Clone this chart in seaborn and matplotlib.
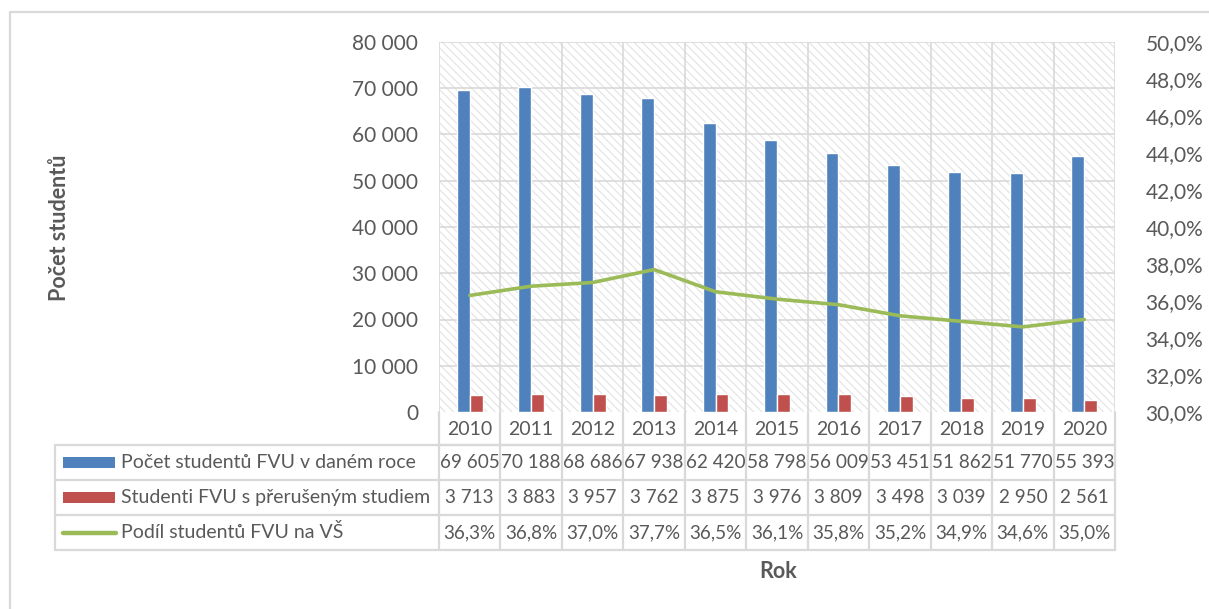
import numpy as np
import pandas as pd
import matplotlib
matplotlib.use("Agg")
import matplotlib.pyplot as plt
from matplotlib.patches import Rectangle
from matplotlib.ticker import FuncFormatter, MultipleLocator
import seaborn as sns

# Data
years = ["2010", "2011", "2012", "2013", "2014", "2015", "2016", "2017", "2018", "2019", "2020"]
students = [69605, 70188, 68686, 67938, 62420, 58798, 56009, 53451, 51862, 51770, 55393]
interrupted = [3713, 3883, 3957, 3762, 3875, 3976, 3809, 3498, 3039, 2950, 2561]
share_pct = [36.3, 36.8, 37.0, 37.7, 36.5, 36.1, 35.8, 35.2, 34.9, 34.6, 35.0]
series_names = ["Počet studentů FVU v daném roce",
                "Studenti FVU s přerušeným studiem",
                "Podíl studentů FVU na VŠ"]

BLUE = "#4F81BD"
RED = "#C0504D"
GREEN = "#9BBB59"
TEXT = "#595959"
GRID = "#D9D9D9"

sns.set_theme(style="white")
plt.rcParams["font.family"] = ["Lato", "DejaVu Sans"]
plt.rcParams["text.color"] = TEXT
plt.rcParams["hatch.linewidth"] = 0.8

W, H = 1209, 609
fig = plt.figure(figsize=(W / 100, H / 100), dpi=100)
fig.patch.set_facecolor("white")

# Plot area in pixels
PL, PR, PT, PB = 439, 1115, 42, 412
ax = fig.add_axes([PL / W, 1 - PB / H, (PR - PL) / W, (PB - PT) / H])
ax.set_facecolor("white")

# Patterned plot-area background
ax.add_patch(Rectangle((0, 0), 1, 1, transform=ax.transAxes, facecolor="white",
                       edgecolor="#E2E2E2", hatch="\\\\\\\\", linewidth=0, zorder=0))

df = pd.DataFrame({
    "Rok": years * 2,
    "value": students + interrupted,
    "series": [series_names[0]] * len(years) + [series_names[1]] * len(years),
})
sns.barplot(data=df, x="Rok", y="value", hue="series", palette=[BLUE, RED],
            width=0.42, saturation=1, legend=False, ax=ax, zorder=3)

ax.set_xlim(-0.5, len(years) - 0.5)
ax.set_ylim(0, 80000)
ax.yaxis.set_major_locator(MultipleLocator(10000))
ax.yaxis.set_major_formatter(FuncFormatter(lambda v, p: f"{int(v):,}".replace(",", " ")))
ax.tick_params(axis="y", length=0, pad=15, labelsize=15, labelcolor=TEXT)
ax.set_xticks([])
ax.set_xlabel("")
ax.set_ylabel("")
for s in ax.spines.values():
    s.set_visible(False)
for v in range(10000, 80001, 10000):
    ax.axhline(v, color=GRID, lw=1.2, zorder=1)
for i in range(len(years) + 1):
    ax.axvline(i - 0.5, color=GRID, lw=1.2, zorder=1)

ax2 = ax.twinx()
sns.lineplot(x=np.arange(len(years)), y=share_pct, color=GREEN, linewidth=2.6, ax=ax2, zorder=4)
ax2.set_ylim(30, 50)
ax2.yaxis.set_major_locator(MultipleLocator(2))
ax2.yaxis.set_major_formatter(FuncFormatter(lambda v, p: f"{v:.1f}%".replace(".", ",")))
ax2.tick_params(axis="y", length=0, pad=22, labelsize=15, labelcolor=TEXT)
for s in ax2.spines.values():
    s.set_visible(False)

# Data table below the plot area (pixel coordinates)
tab = fig.add_axes([0, 0, 1, 1], zorder=-1)
tab.set_xlim(0, W)
tab.set_ylim(H, 0)
tab.axis("off")

col_w = (PR - PL) / len(years)
TL = 55
rows = [PB, 445, 480, 515, 550]
lc = dict(color=GRID, lw=1.6)

# Year row
for i in range(len(years) + 1):
    x = PL + i * col_w
    tab.plot([x, x], [PB, rows[-1]], **lc)
tab.plot([PL, PR], [rows[1], rows[1]], **lc)
for i, y in enumerate(years):
    tab.text(PL + (i + 0.5) * col_w, (rows[0] + rows[1]) / 2 + 1, y,
             ha="center", va="center", fontsize=14, color=TEXT)

# Series rows
for y in rows[1:]:
    tab.plot([TL, PR], [y, y], **lc)
tab.plot([TL, TL], [rows[1], rows[-1]], **lc)

row_vals = [
    [f"{v:,}".replace(",", " ") for v in students],
    [f"{v:,}".replace(",", " ") for v in interrupted],
    [f"{v:.1f}%".replace(".", ",") for v in share_pct],
]
for r in range(3):
    yc = (rows[r + 1] + rows[r + 2]) / 2
    for i, t in enumerate(row_vals[r]):
        tab.text(PL + (i + 0.5) * col_w, yc, t, ha="center", va="center",
                 fontsize=13.6, color=TEXT)
    tab.text(121, yc, series_names[r], ha="left", va="center", fontsize=14, color=TEXT)

# Legend keys inside the table
tab.add_patch(Rectangle((63, 457), 52, 11, facecolor=BLUE, edgecolor="none"))
tab.add_patch(Rectangle((63, 492), 52, 11, facecolor=RED, edgecolor="none"))
tab.plot([63, 116], [532.5, 532.5], color=GREEN, lw=3.2, solid_capstyle="round")

# Chart border
tab.plot([10, 10], [12, H], color="#D9D9D9", lw=1.6)
tab.plot([10, W], [12, 12], color="#D9D9D9", lw=1.6)

# Axis titles
fig.text(60 / W, 1 - 228 / H, "Počet studentů", rotation=90, ha="center", va="center",
         fontsize=15.5, fontweight="bold", color=TEXT)
fig.text(778 / W, 1 - 572 / H, "Rok", ha="center", va="center",
         fontsize=15.5, fontweight="bold", color=TEXT)

fig.savefig("out.png", dpi=100, facecolor="white")
